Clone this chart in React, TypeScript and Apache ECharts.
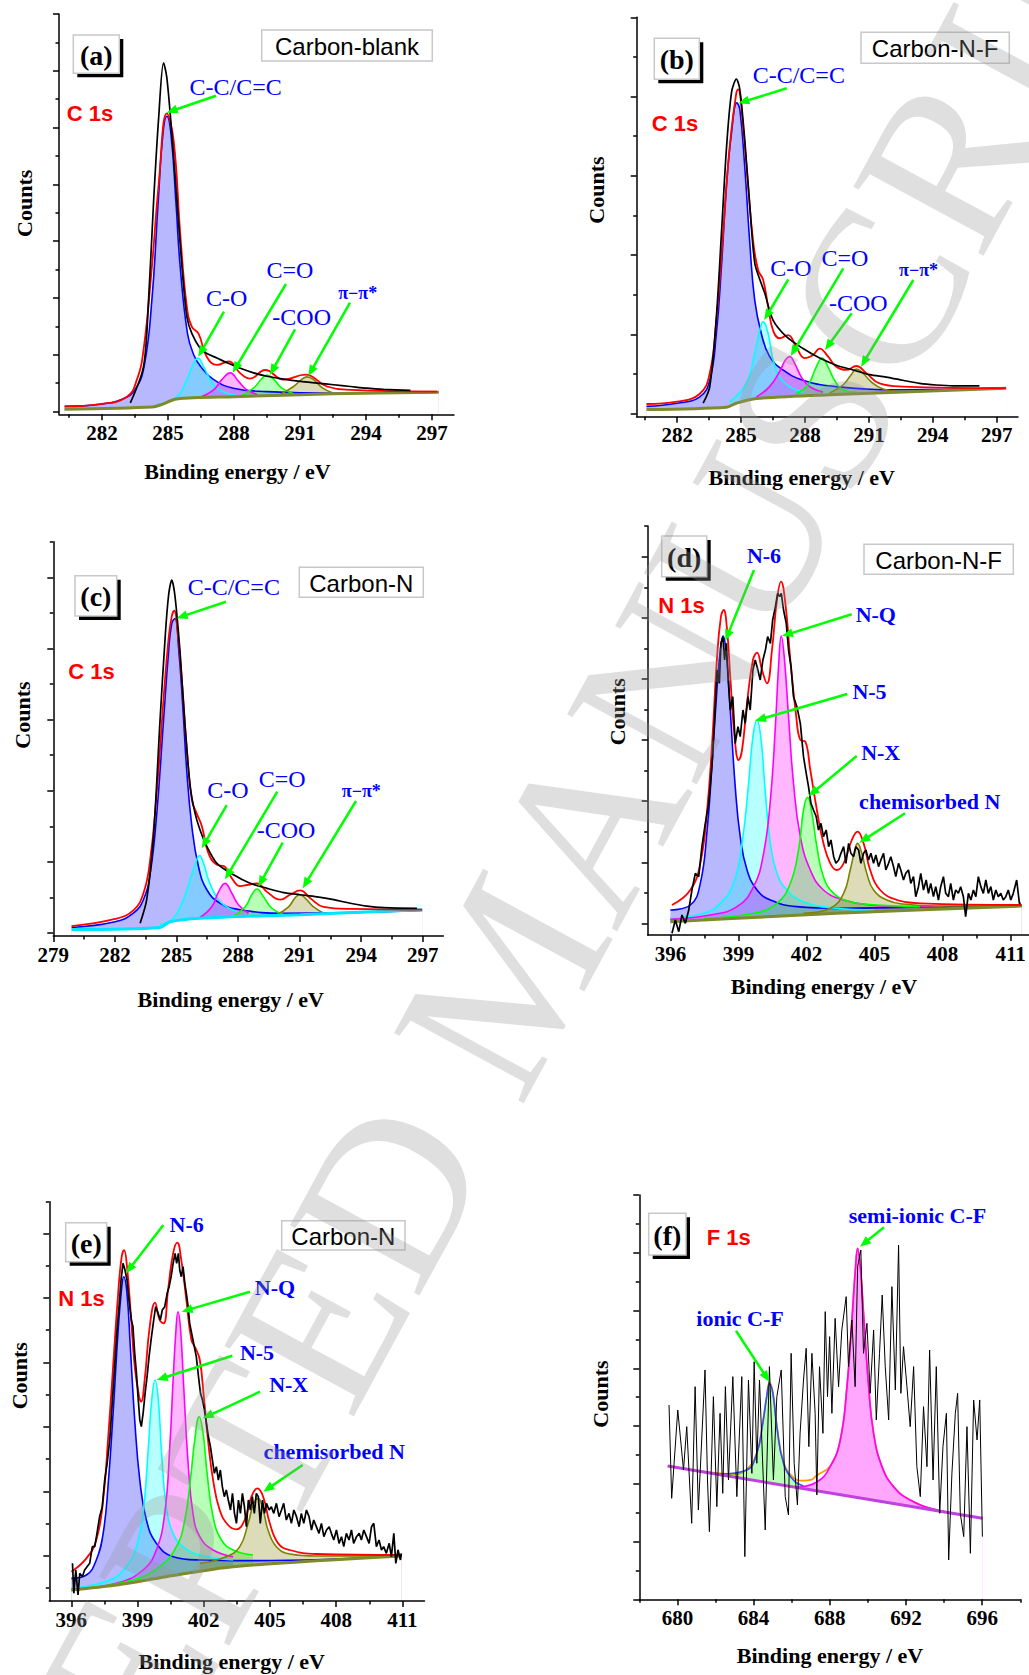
import React, { useEffect, useRef } from "react";
import * as echarts from "echarts";

// ---------------- tick values ----------------
const C_XTICKS = [282, 285, 288, 291, 294, 297];
const C_XTICKS_279 = [279, 282, 285, 288, 291, 294, 297];
const C_XMINOR = [280.5, 283.5, 286.5, 289.5, 292.5, 295.5];
const N_XTICKS = [396, 399, 402, 405, 408, 411];
const N_XMINOR = [397.5, 400.5, 403.5, 406.5, 409.5];
const F_XTICKS = [680, 684, 688, 692, 696];
const F_XMINOR = [678, 682, 686, 690, 694, 698];

const A_YTICKS = [0, 1, 2, 3, 4, 5, 6, 7];
const A_YMINOR = [0.5, 1.5, 2.5, 3.5, 4.5, 5.5, 6.5];
const B_YTICKS = [0, 1, 2, 3, 4, 5];
const B_YMINOR = [0.5, 1.5, 2.5, 3.5, 4.5];
const C_YTICKS = [0, 1, 2, 3, 4, 5];
const C_YMINOR = [0.5, 1.5, 2.5, 3.5, 4.5, 5.5];
const D_YTICKS = [0, 183, 367, 550, 733, 917, 1100];
const D_YMINOR = [92, 275, 458, 642, 825, 1008, 1192];
const E_YTICKS = [0, 193, 387, 580, 774, 967];
const E_YMINOR = [-97, 97, 290, 484, 677, 870, 1062];
const F_YTICKS = [0, 173, 347, 520, 693, 867, 1040, 1213];
const F_YMINOR = [87, 260, 433, 607, 780, 953, 1127];

// ---------------- (a) Carbon-blank, C 1s ----------------
const A_BASE = [[280.3, 0.04], [284.3, 0.08], [284.7, 0.12], [285.4, 0.22], [288, 0.26], [292.5, 0.31], [297.3, 0.34]];
const A_CC = [[280.3, 0.09], [282, 0.13], [283, 0.23], [283.5, 0.38], [283.92, 0.8], [284.27, 1.96], [284.56, 3.71], [284.77, 4.88], [284.95, 5.2], [285.14, 4.88], [285.36, 3.71], [285.56, 2.54], [285.89, 1.37], [286.17, 1.0], [286.47, 0.8], [287.08, 0.56], [287.98, 0.41], [289.5, 0.35], [292.53, 0.32], [297.3, 0.34]];
const A_CO = [[284.5, 0.12], [285.41, 0.26], [285.86, 0.56], [286.17, 0.85], [286.36, 0.94], [286.62, 0.79], [286.92, 0.56], [287.23, 0.41], [287.68, 0.32], [288.29, 0.27]];
const A_CDO = [[286.47, 0.25], [287.08, 0.38], [287.45, 0.56], [287.83, 0.68], [288.21, 0.53], [288.59, 0.38], [289.05, 0.3]];
const A_COO = [[288.29, 0.27], [288.89, 0.41], [289.27, 0.58], [289.5, 0.64], [289.8, 0.57], [290.18, 0.41], [290.71, 0.31]];
const A_PI = [[290.1, 0.3], [290.71, 0.44], [291.09, 0.57], [291.32, 0.61], [291.62, 0.56], [292.0, 0.42], [292.53, 0.32]];
const A_FIT = [[280.33, 0.09], [281.92, 0.13], [283.14, 0.26], [283.59, 0.56], [283.89, 1.08], [284.27, 2.54], [284.58, 4.0], [284.95, 5.25], [285.26, 4.77], [285.56, 3.13], [285.86, 1.84], [286.09, 1.49], [286.39, 1.37], [286.77, 0.96], [287.23, 0.82], [287.76, 0.88], [288.29, 0.67], [288.74, 0.58], [289.42, 0.73], [290.26, 0.56], [291.24, 0.65], [292.23, 0.44], [293.29, 0.38], [297.23, 0.35]];
const A_RAW = [[283.29, 0.15], [283.89, 0.79], [284.12, 1.96], [284.35, 3.71], [284.58, 5.18], [284.8, 6.14], [284.95, 5.88], [285.18, 4.88], [285.41, 3.71], [285.64, 2.54], [285.86, 1.67], [286.09, 1.37], [286.47, 1.11], [286.77, 1.02], [287.23, 0.94], [287.68, 0.86], [288.29, 0.76], [288.89, 0.68], [289.5, 0.62], [290.26, 0.57], [291.02, 0.53], [291.77, 0.5], [292.53, 0.47], [293.29, 0.44], [294.05, 0.41], [294.8, 0.39], [296.02, 0.37]];

// ---------------- (b) Carbon-N-F, C 1s ----------------
const B_BASE = [[280.56, 0.05], [284.31, 0.08], [284.78, 0.13], [285.72, 0.19], [289.47, 0.24], [297.44, 0.32]];
const B_CC = [[280.56, 0.09], [282, 0.13], [283.06, 0.21], [283.53, 0.42], [283.84, 1.01], [284.08, 1.86], [284.31, 2.87], [284.55, 3.54], [284.8, 3.92], [284.94, 3.84], [285.17, 3.12], [285.41, 2.15], [285.64, 1.43], [285.95, 1.01], [286.34, 0.72], [286.97, 0.55], [287.91, 0.42], [289.47, 0.34], [292.6, 0.3], [297.44, 0.32]];
const B_CO = [[284.47, 0.15], [285.25, 0.38], [285.64, 0.76], [285.88, 1.05], [286.03, 1.16], [286.27, 1.01], [286.5, 0.68], [286.81, 0.46], [287.28, 0.34], [287.9, 0.27]];
const B_CDO = [[285.72, 0.21], [286.34, 0.34], [286.81, 0.53], [287.09, 0.68], [287.28, 0.72], [287.52, 0.63], [287.83, 0.46], [288.22, 0.34], [288.84, 0.27]];
const B_COO = [[287.59, 0.25], [288.14, 0.36], [288.53, 0.59], [288.8, 0.7], [289.08, 0.59], [289.39, 0.42], [289.78, 0.3], [290.41, 0.27]];
const B_PI = [[289.16, 0.26], [289.78, 0.36], [290.17, 0.49], [290.41, 0.56], [290.72, 0.51], [291.11, 0.4], [291.66, 0.31], [292.44, 0.28]];
const B_FIT = [[280.56, 0.12], [282, 0.15], [283.06, 0.25], [283.53, 0.51], [283.84, 1.18], [284.16, 2.28], [284.47, 3.38], [284.78, 4.05], [284.86, 4.09], [285.09, 3.63], [285.33, 2.87], [285.56, 2.19], [285.8, 1.81], [286.03, 1.69], [286.27, 1.35], [286.5, 1.05], [286.81, 0.95], [287.2, 0.99], [287.59, 0.84], [287.98, 0.7], [288.38, 0.74], [288.69, 0.82], [289.08, 0.72], [289.47, 0.59], [289.94, 0.55], [290.41, 0.6], [290.88, 0.51], [291.5, 0.38], [292.59, 0.34], [297.44, 0.32]];
const B_RAW = [[283.22, 0.13], [283.53, 0.34], [283.84, 1.22], [284.08, 2.28], [284.31, 3.33], [284.55, 4.05], [284.78, 4.22], [284.94, 4.09], [285.17, 3.46], [285.41, 2.62], [285.64, 1.9], [285.88, 1.69], [286.11, 1.52], [286.5, 1.18], [287.13, 0.97], [287.91, 0.82], [288.69, 0.7], [289.47, 0.61], [290.25, 0.55], [291.03, 0.49], [291.81, 0.46], [292.59, 0.42], [293.38, 0.38], [294.16, 0.36], [294.94, 0.35], [296.19, 0.35]];

// ---------------- (c) Carbon-N, C 1s ----------------
const C_BASE = [[279.89, 0.05], [284.2, 0.08], [284.69, 0.16], [286.15, 0.21], [291.03, 0.26], [296.97, 0.33]];
const C_CC = [[279.89, 0.08], [282.01, 0.16], [282.9, 0.28], [283.39, 0.47], [283.72, 0.84], [284.04, 1.68], [284.37, 2.99], [284.61, 3.93], [284.77, 4.35], [284.93, 4.42], [285.1, 4.02], [285.31, 3.18], [285.5, 2.29], [285.75, 1.5], [286.07, 0.94], [286.48, 0.61], [287.13, 0.42], [288.1, 0.33], [290.22, 0.28], [296.97, 0.32]];
const C_CO = [[284.2, 0.12], [284.85, 0.21], [285.34, 0.47], [285.67, 0.75], [285.96, 1.01], [286.12, 1.09], [286.32, 0.98], [286.56, 0.75], [286.89, 0.54], [287.29, 0.4], [287.94, 0.3]];
const C_CDO = [[286.15, 0.22], [286.72, 0.37], [287.05, 0.58], [287.37, 0.7], [287.7, 0.56], [288.02, 0.4], [288.51, 0.28]];
const C_COO = [[287.78, 0.24], [288.35, 0.37], [288.67, 0.54], [288.92, 0.62], [289.24, 0.51], [289.65, 0.35], [290.22, 0.26]];
const C_PI = [[289.89, 0.26], [290.46, 0.37], [290.79, 0.5], [291.0, 0.54], [291.28, 0.49], [291.68, 0.37], [292.25, 0.27]];
const C_FIT = [[279.89, 0.1], [282.01, 0.2], [282.9, 0.32], [283.39, 0.56], [283.72, 1.03], [284.04, 1.97], [284.37, 3.28], [284.61, 4.12], [284.77, 4.45], [284.89, 4.53], [285.05, 4.26], [285.26, 3.56], [285.5, 2.62], [285.75, 1.87], [285.99, 1.68], [286.24, 1.5], [286.56, 1.12], [286.97, 0.96], [287.33, 0.94], [287.7, 0.77], [288.1, 0.66], [288.51, 0.68], [288.92, 0.7], [289.41, 0.58], [290.06, 0.47], [290.54, 0.54], [291.03, 0.6], [291.52, 0.49], [292.17, 0.37], [293.47, 0.34], [296.97, 0.33]];
const C_RAW = [[283.23, 0.14], [283.55, 0.47], [283.88, 1.36], [284.2, 2.99], [284.45, 4.16], [284.61, 4.73], [284.77, 4.96], [284.93, 4.73], [285.18, 3.93], [285.42, 2.9], [285.67, 2.06], [285.91, 1.68], [286.15, 1.45], [286.48, 1.22], [286.97, 0.98], [287.78, 0.82], [288.59, 0.7], [289.41, 0.63], [290.22, 0.57], [291.03, 0.54], [291.85, 0.51], [292.66, 0.47], [293.47, 0.42], [294.28, 0.38], [295.1, 0.36], [296.72, 0.35]];

// ---------------- (d) Carbon-N-F, N 1s ----------------
const D_BASE = [[396, 5], [398.94, 15], [403.34, 30], [411.49, 52]];
const D_N6 = [[396, 40], [396.88, 55], [397.32, 120], [397.62, 280], [397.84, 480], [398.06, 710], [398.2, 820], [398.32, 862], [398.47, 810], [398.64, 640], [398.86, 410], [399.08, 260], [399.38, 160], [399.82, 100], [400.41, 70], [401.58, 50], [403.34, 45], [406.28, 48], [411.49, 52]];
const D_N5 = [[396, 15], [397.47, 30], [398.2, 60], [398.79, 120], [399.16, 240], [399.45, 420], [399.64, 560], [399.82, 610], [400.0, 550], [400.19, 390], [400.41, 240], [400.7, 150], [401.14, 100], [401.87, 65], [403.34, 45], [405, 40]];
const D_NQ = [[396, 12], [397.76, 25], [398.94, 50], [399.67, 110], [400.11, 210], [400.41, 370], [400.63, 590], [400.77, 770], [400.89, 862], [401.02, 800], [401.21, 620], [401.43, 420], [401.73, 260], [402.17, 160], [402.75, 100], [403.64, 70], [404.81, 55], [406.28, 50], [408, 50]];
const D_NX = [[397.47, 15], [399.67, 30], [400.7, 60], [401.29, 120], [401.65, 220], [401.87, 340], [402.05, 378], [402.24, 330], [402.46, 230], [402.75, 140], [403.2, 90], [403.93, 65], [405.1, 55], [407, 50]];
const D_CHEM = [[401.87, 30], [403.05, 45], [403.64, 90], [403.93, 160], [404.15, 225], [404.25, 240], [404.44, 210], [404.66, 150], [404.96, 100], [405.54, 70], [406.28, 58], [407.75, 52], [411.49, 52]];
const D_FIT = [[396.07, 55], [396.88, 100], [397.32, 180], [397.62, 340], [397.84, 540], [398.06, 800], [398.23, 920], [398.35, 940], [398.5, 880], [398.64, 740], [398.83, 560], [399.01, 490], [399.16, 520], [399.38, 660], [399.64, 790], [399.82, 812], [400.04, 760], [400.26, 720], [400.48, 820], [400.7, 970], [400.88, 1025], [401.07, 960], [401.29, 790], [401.55, 620], [401.73, 550], [401.95, 545], [402.17, 460], [402.46, 340], [402.75, 240], [403.05, 180], [403.34, 160], [403.64, 180], [404.0, 250], [404.25, 275], [404.52, 240], [404.81, 160], [405.25, 100], [405.99, 70], [407.01, 60], [411.49, 55]];
const D_RAW = [[396.07, -30], [396.22, 10], [396.37, -25], [396.51, 25], [396.66, 0], [396.81, 40], [396.95, 100], [397.1, 150], [397.25, 140], [397.39, 230], [397.54, 300], [397.69, 360], [397.84, 480], [397.94, 600], [398.06, 760], [398.16, 720], [398.23, 840], [398.32, 860], [398.39, 790], [398.47, 840], [398.54, 740], [398.64, 640], [398.75, 680], [398.86, 540], [398.98, 590], [399.08, 560], [399.2, 640], [399.3, 600], [399.42, 680], [399.52, 640], [399.64, 760], [399.74, 790], [399.86, 760], [399.96, 730], [400.08, 790], [400.19, 820], [400.29, 860], [400.41, 840], [400.51, 910], [400.63, 950], [400.73, 990], [400.82, 980], [400.89, 990], [400.99, 940], [401.11, 900], [401.21, 820], [401.32, 770], [401.43, 680], [401.58, 650], [401.73, 600], [401.87, 500], [401.99, 450], [402.09, 410], [402.2, 360], [402.31, 340], [402.43, 320], [402.53, 280], [402.64, 300], [402.75, 260], [402.87, 280], [402.98, 230], [403.08, 250], [403.2, 200], [403.3, 180], [403.42, 190], [403.52, 210], [403.64, 230], [403.74, 180], [403.86, 240], [403.96, 210], [404.08, 200], [404.18, 230], [404.3, 220], [404.4, 180], [404.52, 210], [404.62, 220], [404.74, 190], [404.84, 210], [404.96, 180], [405.06, 205], [405.18, 170], [405.28, 190], [405.4, 210], [405.5, 160], [405.62, 180], [405.72, 200], [405.84, 170], [405.94, 140], [406.06, 180], [406.16, 160], [406.28, 130], [406.38, 150], [406.5, 160], [406.6, 120], [406.72, 140], [406.82, 80], [406.94, 110], [407.04, 150], [407.16, 100], [407.28, 130], [407.38, 90], [407.48, 120], [407.6, 80], [407.7, 110], [407.82, 70], [407.92, 110], [408.04, 140], [408.14, 90], [408.26, 80], [408.36, 120], [408.48, 70], [408.58, 100], [408.7, 90], [408.8, 110], [408.92, 80], [409.02, 20], [409.14, 90], [409.25, 70], [409.36, 100], [409.47, 80], [409.58, 140], [409.69, 110], [409.8, 90], [409.91, 130], [410.02, 90], [410.13, 110], [410.24, 70], [410.35, 100], [410.46, 80], [410.57, 90], [410.68, 70], [410.79, 80], [410.9, 100], [411.01, 70], [411.12, 90], [411.27, 130], [411.39, 60], [411.45, 60]];

// ---------------- (e) Carbon-N, N 1s ----------------
const E_BASE = [[396, -103], [398.04, -88], [400.3, -63], [403.33, -33], [410.95, -1]];
const E_N6 = [[396, -68], [396.68, -58], [397.13, -13], [397.44, 67], [397.66, 207], [397.89, 427], [398.12, 677], [398.27, 797], [398.37, 837], [398.52, 787], [398.67, 627], [398.87, 407], [399.1, 227], [399.4, 107], [399.85, 37], [400.61, -3], [401.82, -13], [404, -15], [410.95, -1]];
const E_N5 = [[396, -98], [397.74, -73], [398.49, -33], [398.95, 27], [399.25, 127], [399.47, 307], [399.64, 467], [399.79, 527], [399.94, 467], [400.09, 307], [400.3, 147], [400.61, 67], [401.06, 27], [401.82, 2], [403.33, -13]];
const E_NQ = [[396, -101], [398.04, -83], [399.25, -43], [399.85, 17], [400.23, 127], [400.46, 327], [400.61, 527], [400.73, 667], [400.83, 732], [400.95, 677], [401.09, 507], [401.29, 277], [401.51, 127], [401.82, 57], [402.42, 17], [403.33, -3]];
const E_NX = [[396, -103], [398.79, -73], [400, -33], [400.76, 27], [401.14, 107], [401.39, 227], [401.59, 347], [401.79, 417], [401.97, 367], [402.15, 247], [402.42, 117], [402.8, 47], [403.33, 17], [404.23, 2]];
const E_CHEM = [[401.82, -23], [403.02, -3], [403.63, 27], [404.01, 97], [404.26, 157], [404.46, 172], [404.69, 137], [404.91, 77], [405.29, 27], [405.89, 5], [407.1, -1], [410.95, -1]];
const E_FIT = [[396, -48], [396.68, -8], [397.13, 47], [397.44, 167], [397.66, 347], [397.89, 567], [398.12, 787], [398.28, 897], [398.39, 917], [398.52, 867], [398.69, 727], [398.87, 567], [399.07, 477], [399.16, 462], [399.32, 527], [399.55, 687], [399.79, 759], [400.0, 707], [400.18, 697], [400.38, 797], [400.61, 907], [400.8, 939], [400.98, 887], [401.21, 767], [401.44, 647], [401.63, 622], [401.82, 587], [402.0, 477], [402.19, 347], [402.42, 227], [402.72, 137], [403.1, 92], [403.48, 79], [403.85, 107], [404.16, 177], [404.43, 202], [404.69, 177], [404.99, 97], [405.37, 37], [405.89, 17], [407.1, 5], [410.95, 2]];
const E_RAW = [[396.05, -23], [396.11, -113], [396.2, -43], [396.3, -118], [396.38, -53], [396.5, -63], [396.6, -43], [396.71, -33], [396.83, -23], [396.95, 27], [397.06, 27], [397.16, 67], [397.28, 117], [397.4, 147], [397.51, 227], [397.62, 277], [397.74, 347], [397.84, 447], [397.96, 567], [398.07, 677], [398.16, 747], [398.25, 827], [398.34, 877], [398.43, 857], [398.52, 827], [398.61, 767], [398.72, 707], [398.79, 687], [398.87, 607], [398.95, 547], [399.02, 477], [399.1, 407], [399.17, 387], [399.25, 427], [399.34, 487], [399.43, 537], [399.52, 597], [399.63, 657], [399.73, 707], [399.82, 747], [399.93, 727], [400.03, 707], [400.12, 737], [400.23, 747], [400.34, 787], [400.43, 807], [400.52, 837], [400.61, 877], [400.7, 907], [400.77, 877], [400.85, 907], [400.91, 857], [400.98, 837], [401.06, 867], [401.14, 817], [401.21, 787], [401.29, 747], [401.36, 697], [401.48, 657], [401.57, 627], [401.66, 597], [401.76, 537], [401.85, 487], [401.94, 467], [402.03, 437], [402.12, 397], [402.21, 357], [402.3, 327], [402.39, 287], [402.48, 247], [402.57, 267], [402.66, 227], [402.75, 257], [402.84, 207], [402.93, 177], [403.02, 197], [403.11, 167], [403.21, 137], [403.3, 187], [403.39, 127], [403.48, 97], [403.57, 167], [403.66, 127], [403.75, 187], [403.84, 147], [403.93, 87], [404.02, 167], [404.11, 137], [404.2, 177], [404.29, 127], [404.38, 187], [404.47, 177], [404.56, 97], [404.66, 167], [404.75, 127], [404.84, 157], [404.96, 137], [405.06, 147], [405.17, 127], [405.29, 157], [405.41, 117], [405.52, 137], [405.62, 157], [405.74, 107], [405.86, 127], [405.97, 97], [406.08, 137], [406.2, 117], [406.32, 87], [406.42, 127], [406.53, 97], [406.65, 137], [406.77, 117], [406.88, 77], [406.98, 107], [407.1, 87], [407.22, 67], [407.33, 97], [407.44, 57], [407.56, 77], [407.68, 87], [407.78, 67], [407.89, 47], [408.01, 77], [408.13, 37], [408.24, 57], [408.34, 27], [408.46, 67], [408.58, 47], [408.69, 77], [408.79, 37], [408.92, 57], [409.04, 67], [409.14, 47], [409.25, 77], [409.37, 57], [409.49, 37], [409.6, 87], [409.7, 97], [409.82, 27], [409.94, 47], [410.05, 17], [410.15, 27], [410.27, 7], [410.4, 37], [410.5, -3], [410.61, 67], [410.7, -23], [410.8, 17], [410.91, -13], [410.95, 7]];

// ---------------- (f) Carbon-N-F, F 1s ----------------
const F_BASE = [[679.49, 400], [696.01, 243]];
const F_IONIC = [[682.24, 376], [683.64, 388], [684.17, 438], [684.48, 528], [684.69, 608], [684.83, 646], [685.01, 618], [685.22, 518], [685.57, 408], [686.09, 358], [686.62, 340]];
const F_SEMI = [[686.27, 336], [687.32, 352], [688.02, 398], [688.55, 478], [688.9, 638], [689.16, 838], [689.34, 988], [689.46, 1053], [689.6, 998], [689.77, 858], [690.04, 638], [690.3, 498], [690.74, 398], [691.35, 338], [692.22, 298], [693.63, 268], [696.01, 243]];
const F_FIT = [[679.49, 400], [681, 386], [682.24, 378], [683, 376], [683.64, 390], [684.17, 440], [684.48, 530], [684.69, 610], [684.83, 650], [685.01, 622], [685.22, 522], [685.57, 412], [686.09, 365], [686.62, 356], [687.0, 358], [687.32, 372], [688.02, 400], [688.55, 478], [688.9, 638], [689.16, 838], [689.34, 988], [689.46, 1053], [689.6, 998], [689.77, 858], [690.04, 638], [690.3, 498], [690.74, 398], [691.35, 338], [692.22, 298], [693.63, 268], [696.01, 243]];
const F_RAW = [[679.56, 583], [679.7, 303], [680.02, 568], [680.32, 388], [680.49, 518], [680.75, 228], [680.93, 638], [681.1, 268], [681.45, 688], [681.58, 358], [681.68, 203], [681.89, 608], [682.07, 278], [682.24, 558], [682.38, 318], [682.52, 638], [682.68, 358], [682.91, 668], [683.12, 308], [683.38, 668], [683.54, 128], [683.73, 658], [683.91, 378], [684.03, 713], [684.17, 408], [684.31, 658], [684.61, 208], [684.83, 698], [685.04, 358], [685.22, 608], [685.45, 688], [685.66, 308], [685.83, 253], [685.97, 738], [686.13, 408], [686.3, 283], [686.44, 498], [686.62, 658], [686.76, 753], [686.9, 458], [687.06, 738], [687.23, 558], [687.32, 313], [687.46, 698], [687.64, 498], [687.76, 863], [687.88, 608], [687.99, 788], [688.11, 558], [688.28, 843], [688.46, 638], [688.63, 808], [688.86, 908], [688.98, 698], [689.16, 838], [689.33, 638], [689.46, 998], [689.63, 1048], [689.77, 738], [689.95, 828], [690.12, 618], [690.3, 808], [690.44, 538], [690.61, 738], [690.75, 913], [690.91, 698], [691.09, 538], [691.26, 938], [691.44, 628], [691.61, 1063], [691.73, 618], [691.87, 758], [692.05, 638], [692.22, 518], [692.4, 698], [692.57, 398], [692.75, 308], [692.92, 578], [693.1, 398], [693.24, 748], [693.42, 358], [693.59, 698], [693.77, 258], [693.94, 458], [694.12, 558], [694.24, 118], [694.41, 378], [694.59, 558], [694.71, 618], [694.85, 258], [695.03, 188], [695.2, 518], [695.38, 138], [695.55, 598], [695.73, 478], [695.87, 598], [696.01, 188]];

// ---------------- styles ----------------
const SERIF = '"Liberation Serif", "Times New Roman", serif';
const SANS = '"Liberation Sans", Arial, sans-serif';
const BLUE = { stroke: "#0000ff", fill: "rgba(0,0,255,0.4)" };
const CYAN = { stroke: "#00ffff", fill: "rgba(0,255,255,0.4)" };
const MAG = { stroke: "#ff00ff", fill: "rgba(255,0,255,0.4)" };
const GRN = { stroke: "#00ff00", fill: "rgba(0,255,0,0.4)" };
const OLV = { stroke: "#808000", fill: "rgba(128,128,0,0.4)" };

const PANELS = [
  {
    grid: [59, 14, 395, 400.3], x: [280.05, 298], y: [-0.05, 7],
    xTicks: C_XTICKS, xMinor: C_XMINOR, yTicks: A_YTICKS, yMinor: A_YMINOR,
    comps: [{ data: A_CC, ...BLUE }, { data: A_CO, ...CYAN }, { data: A_CDO, ...MAG }, { data: A_COO, ...GRN }, { data: A_PI, ...OLV }],
    base: A_BASE, baseColor: "#7f8a2a", raw: A_RAW, rawSmooth: 0.3, fit: A_FIT, fitColor: "#ff0000", fitZ: 3,
  },
  {
    grid: [636.7, 17.3, 381.3, 399.4], x: [280.1, 298], y: [-0.04, 5],
    xTicks: C_XTICKS, xMinor: C_XMINOR, yTicks: B_YTICKS, yMinor: B_YMINOR,
    comps: [{ data: B_CC, ...BLUE }, { data: B_CO, ...CYAN }, { data: B_CDO, ...MAG }, { data: B_COO, ...GRN }, { data: B_PI, ...OLV }],
    base: B_BASE, baseColor: "#7f8a2a", raw: B_RAW, rawSmooth: 0.3, fit: B_FIT, fitColor: "#ff0000", fitZ: 3,
  },
  {
    grid: [53.3, 541.7, 390, 394.3], x: [279, 298], y: [-0.04, 5.5],
    xTicks: C_XTICKS_279, xMinor: C_XMINOR, yTicks: C_YTICKS, yMinor: C_YMINOR,
    comps: [{ data: C_CC, ...BLUE }, { data: C_CO, ...CYAN }, { data: C_CDO, ...MAG }, { data: C_COO, ...GRN }, { data: C_PI, ...OLV }],
    base: C_BASE, baseColor: "#00e5ff", raw: C_RAW, rawSmooth: 0.3, fit: C_FIT, fitColor: "#ff0000", fitZ: 3,
  },
  {
    grid: [647.7, 526, 381, 409], x: [395, 411.8], y: [-35, 1192],
    xTicks: N_XTICKS, xMinor: N_XMINOR, yTicks: D_YTICKS, yMinor: D_YMINOR,
    comps: [{ data: D_N6, ...BLUE }, { data: D_N5, ...CYAN }, { data: D_NQ, ...MAG }, { data: D_NX, ...GRN }, { data: D_CHEM, ...OLV }],
    base: D_BASE, baseColor: "#7f8a2a", raw: D_RAW, rawSmooth: false, fit: D_FIT, fitColor: "#ff0000", fitZ: 3,
  },
  {
    grid: [49.3, 1201.7, 375.2, 399.3], x: [395, 412], y: [-136, 1062],
    xTicks: N_XTICKS, xMinor: N_XMINOR, yTicks: E_YTICKS, yMinor: E_YMINOR,
    comps: [{ data: E_N6, ...BLUE }, { data: E_N5, ...CYAN }, { data: E_NQ, ...MAG }, { data: E_NX, ...GRN }, { data: E_CHEM, ...OLV }],
    base: E_BASE, baseColor: "#7f8a2a", raw: E_RAW, rawSmooth: false, fit: E_FIT, fitColor: "#ff0000", fitZ: 3,
  },
  {
    grid: [639.3, 1195, 381, 404.3], x: [678, 698], y: [0, 1213],
    xTicks: F_XTICKS, xMinor: F_XMINOR, yTicks: F_YTICKS, yMinor: F_YMINOR,
    comps: [{ data: F_IONIC, stroke: "#3050ff", fill: "rgba(0,255,0,0.4)" }, { data: F_SEMI, stroke: "#ff00ff", fill: "rgba(255,0,255,0.5)" }],
    base: F_BASE, baseColor: "#c040e0", raw: F_RAW, rawSmooth: false, rawWidth: 1, fit: F_FIT, fitColor: "#ff9900", fitZ: 1,
  },
];

// ---------------- annotation layout (page pixels) ----------------
const PANEL_LETTERS = [
  { t: "(a)", box: [73.3, 35, 46, 38.3] },
  { t: "(b)", box: [654.3, 38.3, 45, 41] },
  { t: "(c)", box: [75, 575.7, 41.7, 40.3] },
  { t: "(d)", box: [661.7, 536, 45, 40.7] },
  { t: "(e)", box: [65.7, 1222.7, 41, 39] },
  { t: "(f)", box: [648.7, 1213.3, 37.3, 41.7] },
];
const SAMPLE_BOXES = [
  { t: "Carbon-blank", box: [261.7, 30, 170.6, 31] },
  { t: "Carbon-N-F", box: [861, 32.3, 148.3, 31] },
  { t: "Carbon-N", box: [299.3, 567.3, 124, 30] },
  { t: "Carbon-N-F", box: [864, 544.3, 149.3, 30] },
  { t: "Carbon-N", box: [281.7, 1220.7, 123.3, 29.3] },
];
const CORE_LABELS = [
  { t: "C 1s", x: 66.7, y: 113.3 },
  { t: "C 1s", x: 651.7, y: 123.3 },
  { t: "C 1s", x: 68.3, y: 671.7 },
  { t: "N 1s", x: 658.3, y: 605.7 },
  { t: "N 1s", x: 58.3, y: 1298.3 },
  { t: "F 1s", x: 706.7, y: 1237.7 },
];
const COUNTS_POS = [[24, 203.3], [596.7, 190], [22.5, 715], [617.5, 711.7], [19, 1375.7], [600.8, 1394]];
const XTITLE_POS = [[237.5, 471], [801.7, 477], [230.8, 999], [824, 986.7], [231.7, 1661.7], [830, 1655]];

const F_C = `24px ${SERIF}`;
const F_PI = `bold 18px ${SERIF}`;
const F_N = `bold 22px ${SERIF}`;
const PEAK_LABELS = [
  // (a)
  { t: "C-C/C=C", x: 235.7, y: 86.7, f: F_C, a: [216, 95.7, 166.7, 112.7] },
  { t: "C-O", x: 226.7, y: 298.3, f: F_C, a: [224, 311.7, 198.3, 356.7] },
  { t: "C=O", x: 290, y: 270, f: F_C, a: [286, 284, 232.7, 372.7] },
  { t: "-COO", x: 301.7, y: 316.7, f: F_C, a: [295, 329.3, 270, 375] },
  { t: "π−π*", x: 357.7, y: 293.3, f: F_PI, a: [350, 302.7, 308.3, 376] },
  // (b)
  { t: "C-C/C=C", x: 798.8, y: 74.7, f: F_C, a: [786.7, 88.3, 738.3, 103.3] },
  { t: "C-O", x: 790.8, y: 268.3, f: F_C, a: [788.3, 279.3, 764.3, 320] },
  { t: "C=O", x: 845, y: 257.7, f: F_C, a: [843.3, 268.3, 790.7, 356] },
  { t: "-COO", x: 858.3, y: 303.3, f: F_C, a: [851.7, 313.3, 825, 350] },
  { t: "π−π*", x: 918.5, y: 270, f: F_PI, a: [913.3, 280, 861, 366.7] },
  // (c)
  { t: "C-C/C=C", x: 233.8, y: 586.7, f: F_C, a: [226, 601.7, 176.7, 618.3] },
  { t: "C-O", x: 227.8, y: 790, f: F_C, a: [226.7, 805, 201.7, 848.3] },
  { t: "C=O", x: 282.2, y: 779, f: F_C, a: [277.3, 791.7, 225, 879.3] },
  { t: "-COO", x: 286, y: 830, f: F_C, a: [282.7, 842.7, 258.3, 886.7] },
  { t: "π−π*", x: 361.3, y: 790.7, f: F_PI, a: [356, 801, 302.7, 888.3] },
  // (d)
  { t: "N-6", x: 764, y: 555.3, f: F_N, a: [754, 570, 725.3, 640.7] },
  { t: "N-Q", x: 875.8, y: 614, f: F_N, a: [851.7, 614.3, 782, 636] },
  { t: "N-5", x: 869.5, y: 691.7, f: F_N, a: [847.3, 694, 755, 720.7] },
  { t: "N-X", x: 880.7, y: 752, f: F_N, a: [856.7, 756, 808.7, 796] },
  { t: "chemisorbed N", x: 929.7, y: 801.7, f: F_N, a: [905, 813.3, 859.3, 842.7] },
  // (e)
  { t: "N-6", x: 186.7, y: 1224.3, f: F_N, a: [163.3, 1225, 126, 1273.3] },
  { t: "N-Q", x: 275, y: 1287.3, f: F_N, a: [250, 1291.7, 181.7, 1311.7] },
  { t: "N-5", x: 257, y: 1352, f: F_N, a: [232.3, 1355.7, 156.7, 1380] },
  { t: "N-X", x: 288.7, y: 1384.7, f: F_N, a: [260, 1391.7, 202.7, 1418.3] },
  { t: "chemisorbed N", x: 334.2, y: 1451, f: F_N, a: [302.7, 1465, 263.3, 1491.7] },
  // (f)
  { t: "semi-ionic C-F", x: 917.5, y: 1215, f: F_N, a: [884, 1227.3, 860, 1246.7] },
  { t: "ionic C-F", x: 740, y: 1318.3, f: F_N, a: [736, 1330.7, 769.3, 1381.7] },
];

function text(x: number, y: number, t: string, font: string, fill: string, align = "center", rotation = 0, z = 20) {
  return {
    type: "text", x, y, rotation, z, silent: true,
    style: { text: t, font, fill, textAlign: align, textVerticalAlign: "middle" },
  };
}

function arrow(x1: number, y1: number, x2: number, y2: number) {
  const dx = x2 - x1, dy = y2 - y1;
  const L = Math.hypot(dx, dy);
  const ux = dx / L, uy = dy / L;
  const hl = 11, hw = 4.5;
  const bx = x2 - ux * hl, by = y2 - uy * hl;
  return [
    { type: "line", z: 19, silent: true, shape: { x1, y1, x2: bx + ux * 2, y2: by + uy * 2 }, style: { stroke: "#00ff00", lineWidth: 2.5 } },
    { type: "polygon", z: 19, silent: true, shape: { points: [[x2, y2], [bx - uy * hw, by + ux * hw], [bx + uy * hw, by - ux * hw]] }, style: { fill: "#00ff00" } },
  ];
}

function buildOption() {
  const grid: any[] = [];
  const xAxis: any[] = [];
  const yAxis: any[] = [];
  const series: any[] = [];
  const axLine = { color: "#000", width: 1.5 };

  PANELS.forEach((p: any, i: number) => {
    grid.push({ left: p.grid[0], top: p.grid[1], width: p.grid[2], height: p.grid[3], containLabel: false, outerBoundsMode: "none" });
    const xi = xAxis.length;
    xAxis.push({
      gridIndex: i, type: "value", min: p.x[0], max: p.x[1], position: "bottom", z: 5,
      axisLine: { show: true, onZero: false, lineStyle: axLine },
      axisTick: { show: true, length: 6, customValues: p.xTicks, lineStyle: axLine },
      axisLabel: {
        show: true, customValues: p.xTicks, margin: 8, color: "#000",
        fontFamily: SERIF, fontWeight: "bold", fontSize: 21,
        formatter: (v: number) => String(Math.round(v)),
      },
      splitLine: { show: false },
    });
    xAxis.push({
      gridIndex: i, type: "value", min: p.x[0], max: p.x[1], position: "bottom", z: 5,
      axisLine: { show: false, onZero: false },
      axisTick: { show: true, length: 3.5, customValues: p.xMinor, lineStyle: axLine },
      axisLabel: { show: false }, splitLine: { show: false },
    });
    const yi = yAxis.length;
    yAxis.push({
      gridIndex: i, type: "value", min: p.y[0], max: p.y[1], position: "left", z: 5,
      axisLine: { show: true, onZero: false, lineStyle: axLine },
      axisTick: { show: true, length: 6, customValues: p.yTicks, lineStyle: axLine },
      axisLabel: { show: false }, splitLine: { show: false },
    });
    yAxis.push({
      gridIndex: i, type: "value", min: p.y[0], max: p.y[1], position: "left", z: 5,
      axisLine: { show: false, onZero: false },
      axisTick: { show: true, length: 3.5, customValues: p.yMinor, lineStyle: axLine },
      axisLabel: { show: false }, splitLine: { show: false },
    });
    const ax = { xAxisIndex: xi, yAxisIndex: yi };
    series.push({
      type: "line", ...ax, data: p.fit, smooth: 0.45, symbol: "none", silent: true, z: p.fitZ,
      lineStyle: { color: p.fitColor, width: 1.8 },
    });
    p.comps.forEach((c: any) => {
      series.push({
        type: "line", ...ax, data: c.data, smooth: 0.45, symbol: "none", silent: true, z: 2,
        lineStyle: { color: c.stroke, width: 1.6 },
        areaStyle: { color: c.fill, origin: "start" },
      });
    });
    // background line; its white area hides fills below the background
    series.push({
      type: "line", ...ax, data: p.base, smooth: 0.3, symbol: "none", silent: true, z: 2,
      lineStyle: { color: p.baseColor, width: 3 },
      areaStyle: { color: "#ffffff", opacity: 1, origin: "start" },
    });
    series.push({
      type: "line", ...ax, data: p.raw, smooth: p.rawSmooth, symbol: "none", silent: true, z: 3,
      lineStyle: { color: "#000", width: p.rawWidth || 1.7 },
    });
  });

  const elements: any[] = [];
  PANEL_LETTERS.forEach((l) => {
    const [x, y, w, h] = l.box;
    elements.push({ type: "rect", z: 14, silent: true, shape: { x: x + 4, y: y + 4, width: w, height: h }, style: { fill: "#000" } });
    elements.push({ type: "rect", z: 15, silent: true, shape: { x, y, width: w, height: h }, style: { fill: "#fff", stroke: "#c8c8c8", lineWidth: 1.5 } });
    elements.push(text(x + w / 2, y + h / 2 + 1, l.t, `bold 28px ${SERIF}`, "#000"));
  });
  SAMPLE_BOXES.forEach((s) => {
    const [x, y, w, h] = s.box;
    elements.push({ type: "rect", z: 15, silent: true, shape: { x, y, width: w, height: h }, style: { fill: "#fff", stroke: "#c8c8c8", lineWidth: 1.5 } });
    elements.push(text(x + w / 2, y + h / 2 + 1, s.t, `24px ${SANS}`, "#000"));
  });
  CORE_LABELS.forEach((c) => elements.push(text(c.x, c.y, c.t, `bold 22px ${SANS}`, "#ff0000", "left")));
  COUNTS_POS.forEach(([x, y]) => elements.push(text(x, y, "Counts", `bold 22px ${SERIF}`, "#000", "center", Math.PI / 2)));
  XTITLE_POS.forEach(([x, y]) => elements.push(text(x, y, "Binding energy / eV", `bold 22px ${SERIF}`, "#000")));
  PEAK_LABELS.forEach((l) => {
    elements.push(text(l.x, l.y, l.t, l.f, "#0000ff"));
    elements.push(...arrow(l.a[0], l.a[1], l.a[2], l.a[3]));
  });
  // watermark
  elements.push(text(509, 971, "ACCEPTED MANUSCRIPT", `225px ${SERIF}`, "rgba(150,150,150,0.3)", "center", (61.5 * Math.PI) / 180, 100));

  return {
    animation: false,
    grid, xAxis, yAxis, series,
    graphic: { elements },
  };
}

export default function App() {
  const ref = useRef<HTMLDivElement>(null);
  useEffect(() => {
    if (!ref.current) return;
    const chart = echarts.init(ref.current, null, { renderer: "svg", width: 1029, height: 1675 });
    chart.setOption(buildOption() as any);
    return () => chart.dispose();
  }, []);
  return (
    <div
      ref={ref}
      style={{ position: "absolute", left: 0, top: 0, width: 1029, height: 1675, background: "#fff" }}
    />
  );
}
